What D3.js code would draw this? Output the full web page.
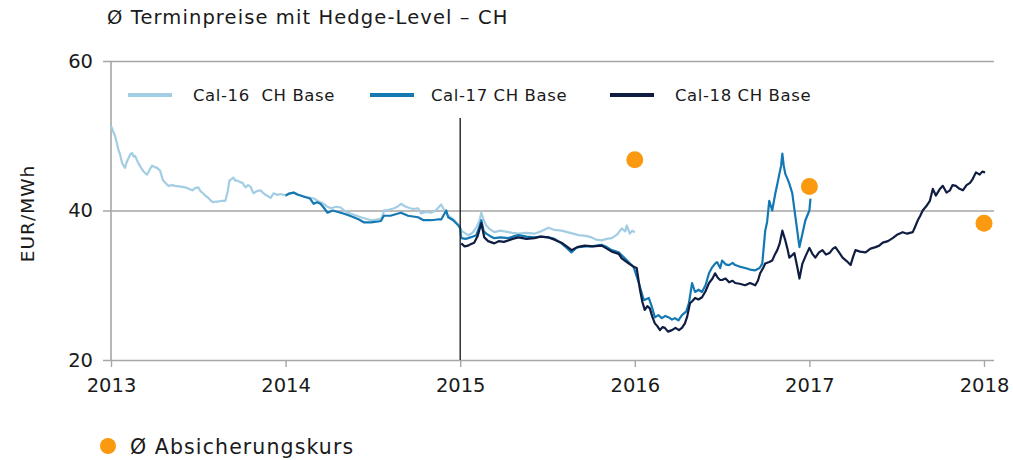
<!DOCTYPE html>
<html>
<head>
<meta charset="utf-8">
<script src="https://cdn.jsdelivr.net/npm/d3@7"></script>
<style>
  html, body { margin: 0; padding: 0; background: #fff; }
  svg text { font-family: "DejaVu Sans", Verdana, sans-serif; fill: #1a1a1a; }
</style>
</head>
<body>
<div id="chart"></div>
<script>
// ---- data (decimal year, EUR/MWh) ----
const yearTicks = [2013, 2014, 2015, 2016, 2017, 2018];
const valueTicks = [20, 40, 60];
const seriesNames = ['Cal-16  CH Base', 'Cal-17 CH Base', 'Cal-18 CH Base'];

const cal16 = [
  [2013.000,51.3],[2013.012,50.6],[2013.023,50.0],[2013.035,48.9],[2013.040,48.3],[2013.052,47.5],
  [2013.063,46.4],[2013.072,46.0],[2013.080,45.7],[2013.090,46.5],[2013.098,46.9],[2013.110,47.5],
  [2013.121,47.7],[2013.130,47.2],[2013.138,47.3],[2013.155,46.4],[2013.170,45.8],[2013.184,45.3],
  [2013.195,45.0],[2013.207,44.8],[2013.222,45.5],[2013.236,46.0],[2013.250,45.8],[2013.264,45.7],
  [2013.282,45.3],[2013.290,44.6],[2013.299,44.0],[2013.315,43.6],[2013.328,43.3],[2013.350,43.4],
  [2013.368,43.3],[2013.400,43.2],[2013.425,43.1],[2013.445,42.9],[2013.466,42.7],[2013.482,43.0],
  [2013.500,43.1],[2013.512,42.6],[2013.523,42.4],[2013.540,42.0],[2013.557,41.7],[2013.572,41.3],
  [2013.586,41.1],[2013.600,41.2],[2013.615,41.2],[2013.635,41.3],[2013.655,41.3],[2013.668,42.5],
  [2013.678,44.0],[2013.690,44.2],[2013.701,44.4],[2013.712,44.0],[2013.724,44.0],[2013.740,43.8],
  [2013.753,43.7],[2013.770,43.1],[2013.785,43.4],[2013.799,43.2],[2013.816,42.3],[2013.835,42.6],
  [2013.856,42.7],[2013.870,42.4],[2013.885,42.1],[2013.900,41.9],[2013.914,41.7],[2013.931,42.3],
  [2013.950,42.1],[2013.971,42.2],[2014.000,42.0],[2014.046,42.4],[2014.086,42.0],[2014.120,41.8],
  [2014.161,41.6],[2014.190,41.2],[2014.218,40.9],[2014.240,40.5],[2014.259,40.3],[2014.290,40.5],
  [2014.316,40.4],[2014.336,40.0],[2014.356,39.7],[2014.395,39.4],[2014.431,39.1],[2014.460,38.9],
  [2014.489,38.7],[2014.520,38.8],[2014.546,38.9],[2014.560,39.6],[2014.563,40.0],[2014.590,40.1],
  [2014.621,40.3],[2014.640,40.5],[2014.661,40.9],[2014.680,40.6],[2014.701,40.4],[2014.730,40.2],
  [2014.759,40.3],[2014.776,39.6],[2014.805,39.8],[2014.833,39.7],[2014.860,40.0],[2014.891,40.8],
  [2014.910,40.0],[2014.931,39.3],[2014.950,39.0],[2014.966,38.7],[2014.985,38.2],[2015.000,37.8],
  [2015.006,37.3],[2015.025,37.0],[2015.046,36.7],[2015.070,37.0],[2015.092,37.7],[2015.110,38.6],
  [2015.121,39.7],[2015.135,38.7],[2015.149,38.0],[2015.170,37.5],[2015.195,37.1],[2015.230,37.3],
  [2015.276,37.1],[2015.300,37.0],[2015.333,36.9],[2015.380,37.0],[2015.425,36.9],[2015.460,37.2],
  [2015.506,37.7],[2015.540,37.4],[2015.580,37.3],[2015.630,37.0],[2015.678,36.7],[2015.720,36.6],
  [2015.753,36.4],[2015.780,36.1],[2015.810,36.0],[2015.840,36.2],[2015.868,36.3],[2015.900,36.8],
  [2015.925,37.6],[2015.945,37.2],[2015.954,38.0],[2015.971,36.9],[2015.985,37.3],[2016.000,37.1]
];

const cal17 = [
  [2014.000,42.0],[2014.023,42.3],[2014.046,42.4],[2014.070,42.1],[2014.086,42.0],[2014.110,41.8],
  [2014.140,41.6],[2014.161,40.9],[2014.180,41.1],[2014.200,40.9],[2014.218,40.4],[2014.240,39.7],
  [2014.270,40.0],[2014.300,39.8],[2014.330,39.6],[2014.356,39.4],[2014.390,39.1],[2014.420,38.8],
  [2014.450,38.4],[2014.489,38.4],[2014.520,38.5],[2014.546,38.6],[2014.563,39.3],[2014.600,39.3],
  [2014.630,39.5],[2014.661,39.7],[2014.701,39.3],[2014.730,39.2],[2014.759,39.1],[2014.790,38.7],
  [2014.833,38.7],[2014.870,38.8],[2014.891,38.8],[2014.920,40.0],[2014.931,39.1],[2014.960,38.7],
  [2014.990,38.0],[2015.000,37.6],[2015.006,36.3],[2015.030,36.2],[2015.046,36.3],[2015.070,36.5],
  [2015.092,36.7],[2015.110,37.8],[2015.121,38.7],[2015.135,37.2],[2015.149,36.9],[2015.170,36.6],
  [2015.195,36.3],[2015.230,36.4],[2015.276,36.3],[2015.300,36.5],[2015.333,36.7],[2015.380,36.5],
  [2015.425,36.4],[2015.460,36.5],[2015.506,36.4],[2015.540,36.2],[2015.580,35.6],[2015.610,35.0],
  [2015.637,34.4],[2015.660,34.9],[2015.678,35.1],[2015.720,35.2],[2015.753,35.2],[2015.810,35.4],
  [2015.840,35.1],[2015.868,34.7],[2015.908,34.4],[2015.943,33.6],[2015.994,32.4],[2016.023,30.3],
  [2016.052,28.0],[2016.080,28.3],[2016.098,27.1],[2016.115,25.7],[2016.135,26.0],[2016.155,25.6],
  [2016.175,25.9],[2016.195,25.7],[2016.213,25.4],[2016.230,25.6],[2016.250,25.3],[2016.270,26.0],
  [2016.295,26.5],[2016.310,27.6],[2016.328,30.3],[2016.345,29.1],[2016.365,29.4],[2016.385,29.1],
  [2016.405,30.0],[2016.425,31.6],[2016.443,32.4],[2016.460,32.9],[2016.471,33.1],[2016.489,32.3],
  [2016.500,33.3],[2016.520,32.8],[2016.540,32.7],[2016.560,33.0],[2016.575,32.7],[2016.600,32.5],
  [2016.632,32.3],[2016.660,32.1],[2016.690,32.0],[2016.715,32.3],[2016.730,32.9],[2016.747,37.3],
  [2016.758,38.5],[2016.770,41.3],[2016.787,40.0],[2016.805,42.3],[2016.817,43.6],[2016.828,44.9],
  [2016.838,46.0],[2016.845,47.6],[2016.853,46.0],[2016.862,44.9],[2016.875,44.2],[2016.885,43.6],
  [2016.902,42.3],[2016.920,39.1],[2016.943,35.1],[2016.960,36.9],[2016.977,38.7],[2017.000,40.0],
  [2017.006,41.6]
];

const cal18 = [
  [2015.006,35.6],[2015.025,35.2],[2015.046,35.3],[2015.060,35.5],[2015.080,35.7],[2015.100,36.6],
  [2015.121,38.3],[2015.138,36.4],[2015.160,35.9],[2015.195,35.6],[2015.220,35.9],[2015.250,35.8],
  [2015.276,36.0],[2015.300,36.2],[2015.333,36.4],[2015.380,36.2],[2015.425,36.3],[2015.460,36.5],
  [2015.506,36.4],[2015.540,36.1],[2015.580,35.7],[2015.610,35.2],[2015.638,34.7],[2015.670,35.1],
  [2015.713,35.3],[2015.760,35.2],[2015.810,35.3],[2015.840,34.9],[2015.868,34.5],[2015.908,34.2],
  [2015.925,33.6],[2015.966,32.9],[2016.000,32.4],[2016.011,32.3],[2016.029,29.5],[2016.043,27.8],
  [2016.057,26.7],[2016.072,27.2],[2016.086,26.9],[2016.100,25.8],[2016.115,24.9],[2016.130,24.5],
  [2016.144,24.0],[2016.160,24.4],[2016.172,24.3],[2016.190,23.8],[2016.213,24.0],[2016.233,24.3],
  [2016.253,24.0],[2016.270,24.3],[2016.287,24.9],[2016.300,25.8],[2016.316,27.6],[2016.330,27.9],
  [2016.345,28.3],[2016.365,28.1],[2016.385,28.4],[2016.405,29.2],[2016.425,30.3],[2016.445,30.9],
  [2016.460,31.6],[2016.475,31.0],[2016.489,30.7],[2016.500,30.7],[2016.520,30.9],[2016.540,30.4],
  [2016.560,30.6],[2016.575,30.3],[2016.600,30.2],[2016.632,30.0],[2016.660,30.3],[2016.690,30.0],
  [2016.705,30.6],[2016.718,31.6],[2016.735,32.3],[2016.747,32.9],[2016.770,33.1],[2016.787,33.3],
  [2016.800,34.0],[2016.816,34.7],[2016.830,35.6],[2016.845,37.3],[2016.862,36.0],[2016.875,34.8],
  [2016.885,33.7],[2016.900,34.0],[2016.914,34.3],[2016.930,32.5],[2016.943,30.9],[2016.960,32.9],
  [2016.980,34.0],[2017.000,35.0],[2017.017,34.2],[2017.034,33.7],[2017.055,34.4],[2017.075,34.7],
  [2017.095,34.1],[2017.115,34.3],[2017.135,34.9],[2017.149,35.1],[2017.170,34.4],[2017.190,33.7],
  [2017.215,33.2],[2017.236,32.7],[2017.250,33.8],[2017.264,34.7],[2017.290,34.5],[2017.322,34.4],
  [2017.350,34.9],[2017.379,35.1],[2017.400,35.3],[2017.420,35.7],[2017.450,35.9],[2017.477,36.3],
  [2017.505,36.8],[2017.534,37.1],[2017.560,36.9],[2017.592,37.1],[2017.605,37.8],[2017.621,38.7],
  [2017.635,39.3],[2017.649,40.0],[2017.670,40.6],[2017.690,41.3],[2017.707,42.9],[2017.724,42.0],
  [2017.745,42.8],[2017.764,43.3],[2017.785,42.4],[2017.805,42.7],[2017.820,43.4],[2017.839,43.3],
  [2017.860,42.9],[2017.879,42.7],[2017.900,43.4],[2017.920,43.7],[2017.935,44.2],[2017.954,45.1],
  [2017.975,44.8],[2017.990,45.2],[2018.006,45.1]
];

const hedgeLevels = [[2016.0, 46.8], [2017.0, 43.2], [2018.0, 38.3]];
const cutoffYear = 2015.0;

// ---- layout ----
const W = 1013, H = 460;
const colors = ['#a3cde3', '#1479b3', '#0f1d42'];
const orange = '#fb9a10';
const FONT = '"DejaVu Sans", Verdana, sans-serif';

const x = d3.scaleLinear().domain([2013, 2018]).range([111, 984]);
const y = d3.scaleLinear().domain([20, 60]).range([360, 61]);
const plotRight = 994;

const svg = d3.select('#chart').append('svg')
  .attr('width', W).attr('height', H);

// title
svg.append('text')
  .attr('x', 107).attr('y', 24)
  .attr('font-size', 19.5)
  .attr('letter-spacing', 1.1)
  .text('Ø Terminpreise mit Hedge-Level – CH');

// horizontal grid + y labels
const yAxis = svg.append('g')
  .attr('transform', 'translate(103,0)')
  .call(d3.axisLeft(y).tickValues(valueTicks).tickSize(-(plotRight - 103)).tickPadding(10));
yAxis.select('.domain').remove();
yAxis.selectAll('.tick line').attr('stroke', '#a6a6a6').attr('stroke-width', 1.6);
yAxis.selectAll('.tick text')
  .attr('font-size', 19.5)
  .attr('font-family', FONT)
  .attr('fill', '#1a1a1a');

// left axis line
svg.append('line')
  .attr('x1', x(2013)).attr('x2', x(2013))
  .attr('y1', y(60)).attr('y2', y(20))
  .attr('stroke', '#a6a6a6').attr('stroke-width', 1.6);

// x axis ticks + labels
const xAxis = svg.append('g')
  .attr('transform', `translate(0,${y(20)})`)
  .call(d3.axisBottom(x).tickValues(yearTicks).tickFormat(d3.format('d')).tickSize(7).tickPadding(11));
xAxis.select('.domain').remove();
xAxis.selectAll('.tick line').attr('stroke', '#a6a6a6').attr('stroke-width', 1.4);
xAxis.selectAll('.tick text')
  .attr('font-size', 19.5)
  .attr('font-family', FONT)
  .attr('fill', '#1a1a1a');

// y axis title
svg.append('text')
  .attr('transform', `translate(34,${(y(60) + y(20)) / 2 + 3}) rotate(-90)`)
  .attr('text-anchor', 'middle')
  .attr('font-size', 18.5)
  .attr('letter-spacing', 1)
  .text('EUR/MWh');

// series
const line = d3.line().x(d => x(d[0])).y(d => y(d[1]));
[cal16, cal17, cal18].forEach((s, i) => {
  svg.append('path')
    .datum(s)
    .attr('d', line)
    .attr('fill', 'none')
    .attr('stroke', colors[i])
    .attr('stroke-width', 2.2)
    .attr('stroke-linejoin', 'round');
});

// cutoff marker
svg.append('line')
  .attr('x1', x(cutoffYear)).attr('x2', x(cutoffYear))
  .attr('y1', 118).attr('y2', y(20))
  .attr('stroke', '#222').attr('stroke-width', 1.4);

// hedge levels
svg.selectAll('.hedge')
  .data(hedgeLevels)
  .enter().append('circle')
  .attr('class', 'hedge')
  .attr('cx', d => x(d[0])).attr('cy', d => y(d[1]))
  .attr('r', 8.5)
  .attr('fill', orange);

// legend (top)
const legendX = [128, 370, 610];
const labelX = [193, 431, 675];
const legend = svg.append('g');
seriesNames.forEach((name, i) => {
  legend.append('line')
    .attr('x1', legendX[i]).attr('x2', legendX[i] + 44)
    .attr('y1', 95).attr('y2', 95)
    .attr('stroke', colors[i]).attr('stroke-width', 4);
  legend.append('text')
    .attr('x', labelX[i]).attr('y', 101)
    .attr('font-size', 16.5)
    .attr('letter-spacing', 0.6)
    .style('white-space', 'pre')
    .text(name);
});

// legend (bottom)
svg.append('circle')
  .attr('cx', 108).attr('cy', 446).attr('r', 8)
  .attr('fill', orange);
svg.append('text')
  .attr('x', 130).attr('y', 454)
  .attr('font-size', 20.5)
  .attr('letter-spacing', 1.1)
  .text('Ø Absicherungskurs');
</script>
</body>
</html>
